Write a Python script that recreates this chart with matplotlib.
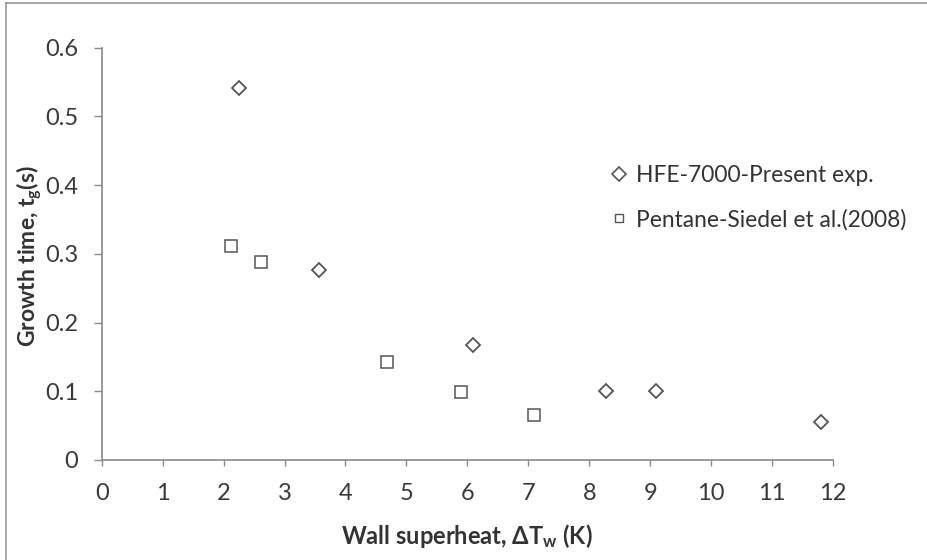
import matplotlib
matplotlib.use("Agg")
import matplotlib.pyplot as plt
from matplotlib.lines import Line2D

plt.rcParams['font.family'] = ['Lato', 'DejaVu Sans']
plt.rcParams['mathtext.fontset'] = 'custom'
plt.rcParams['mathtext.rm'] = 'Lato'
plt.rcParams['mathtext.bf'] = 'Lato:bold'

# Bubble growth time vs. wall superheat
hfe_superheat = [2.25, 3.57, 6.1, 8.28, 9.1, 11.8]
hfe_growth = [0.541, 0.276, 0.168, 0.101, 0.100, 0.055]

pentane_superheat = [2.12, 2.61, 4.68, 5.9, 7.09]
pentane_growth = [0.312, 0.288, 0.142, 0.099, 0.065]

x_ticks = [0, 1, 2, 3, 4, 5, 6, 7, 8, 9, 10, 11, 12]
y_ticks = [0, 0.1, 0.2, 0.3, 0.4, 0.5, 0.6]
y_tick_labels = ["0", "0.1", "0.2", "0.3", "0.4", "0.5", "0.6"]

hfe_label = "HFE-7000-Present exp."
pentane_label = "Pentane-Siedel et al.(2008)"

W, H = 928, 560
fig = plt.figure(figsize=(W / 100, H / 100), dpi=100)
fig.patch.set_facecolor("white")

left, right = 101.7 / W, 833 / W
bottom, top = 1 - 460 / H, 1 - 47.7 / H
ax = fig.add_axes([left, bottom, right - left, top - bottom])

marker_edge = "#555555"
ax.plot(hfe_superheat, hfe_growth, linestyle="none", marker="D", markersize=7.6,
        markerfacecolor="white", markeredgecolor=marker_edge, markeredgewidth=1.3,
        clip_on=False)
ax.plot(pentane_superheat, pentane_growth, linestyle="none", marker="s", markersize=8.2,
        markerfacecolor="white", markeredgecolor=marker_edge, markeredgewidth=1.1,
        clip_on=False)

ax.set_xlim(0, 12)
ax.set_ylim(0, 0.6)
ax.set_xticks(x_ticks)
ax.set_yticks(y_ticks)
ax.set_yticklabels(y_tick_labels)

for side in ("top", "right"):
    ax.spines[side].set_visible(False)
for side in ("left", "bottom"):
    ax.spines[side].set_color("#8a8a8a")
    ax.spines[side].set_linewidth(1.2)

ax.tick_params(axis="x", direction="out", length=4.5, width=1.0, color="#8a8a8a",
               pad=12, labelsize=17, labelcolor="#3a3a3a")
ax.tick_params(axis="y", direction="out", length=5.8, width=1.0, color="#8a8a8a",
               pad=11, labelsize=17, labelcolor="#3a3a3a")

fig.text(467 / W, 1 - 536 / H, r"Wall superheat, $\mathbf{\Delta T_w}$ (K)",
         ha="center", va="center", fontsize=17, fontweight="bold", color="#333333")
fig.text(29 / W, 1 - 256 / H, r"Growth time, $\mathbf{t_g}$(s)",
         ha="center", va="center", rotation=90, fontsize=16.5, fontweight="bold",
         color="#333333")

handles = [
    Line2D([], [], linestyle="none", marker="D", markersize=7.2, markerfacecolor="white",
           markeredgecolor=marker_edge, markeredgewidth=1.2),
    Line2D([], [], linestyle="none", marker="s", markersize=5.5, markerfacecolor="white",
           markeredgecolor=marker_edge, markeredgewidth=1.0),
]
fig.legend(handles, [hfe_label, pentane_label], loc="center left",
           bbox_to_anchor=(597 / W, 1 - 197.5 / H), frameon=False, fontsize=16.4,
           handlelength=0.9, handletextpad=0.3, labelspacing=1.0,
           labelcolor="#333333", borderpad=0)

# thin frame along the left and top edges
fig.add_artist(Line2D([6.5 / W, 6.5 / W], [0, 1 - 3 / H], transform=fig.transFigure,
                      color="#9a9a9a", linewidth=1.2))
fig.add_artist(Line2D([6.5 / W, 1], [1 - 3 / H, 1 - 3 / H], transform=fig.transFigure,
                      color="#9a9a9a", linewidth=1.2))

fig.savefig("out.png", dpi=100)
